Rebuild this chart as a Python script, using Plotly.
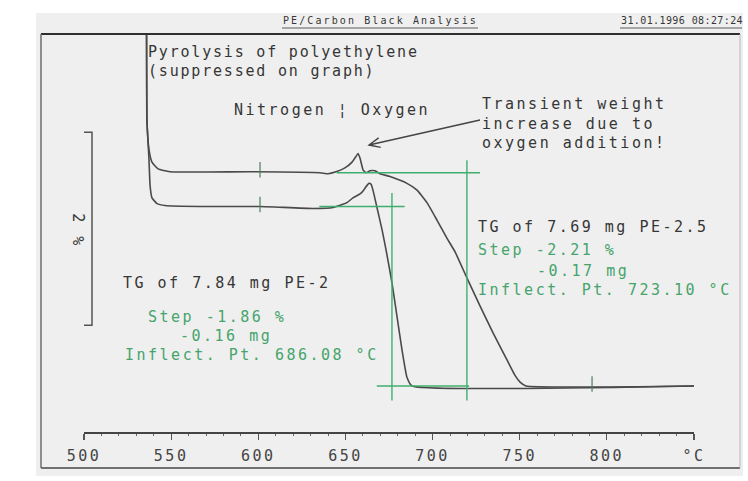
import math
import plotly.graph_objects as go

# ---------------- data ----------------
# Temperature (°C) and weight (% above the final residue level) of the two TG runs
t_pe25 = [536.0, 536.1, 537.3, 539.0, 542.5, 549.3, 595.2, 635.4, 640.0, 644.6,
          649.7, 653.8, 656.1, 657.2, 658.4, 660.1, 661.8, 664.1, 667.0, 669.8,
          675.6, 685.3, 691.1, 696.8, 702.5, 708.3, 712.9, 719.7, 727.2, 734.7,
          742.7, 747.3, 750.2, 753.6, 850.0]
w_pe25 = [4.50, 2.76, 2.45, 2.32, 2.25, 2.22, 2.22, 2.21, 2.20, 2.22,
          2.26, 2.32, 2.38, 2.41, 2.36, 2.24, 2.21, 2.23, 2.23, 2.20,
          2.17, 2.10, 2.03, 1.90, 1.72, 1.53, 1.39, 1.12, 0.83, 0.55,
          0.27, 0.11, 0.04, 0.00, 0.00]

t_pe2 = [535.6, 536.1, 537.3, 537.9, 539.0, 541.9, 546.5, 566.6, 601.0, 631.4,
         642.9, 650.9, 654.3, 658.4, 660.1, 661.2, 663.5, 664.7, 665.8, 668.1,
         671.0, 673.3, 676.7, 679.6, 682.5, 685.3, 688.2, 850.0]
w_pe2 = [4.50, 2.76, 2.34, 2.08, 1.95, 1.89, 1.87, 1.86, 1.86, 1.84,
         1.85, 1.90, 1.95, 1.99, 2.02, 2.05, 2.10, 2.09, 2.03, 1.85,
         1.62, 1.41, 1.07, 0.72, 0.37, 0.09, 0.00, 0.00]

# Step evaluation: plateau levels (%) and their temperature spans (°C)
step_levels = [2.21, 1.86, 0.00]
step_t_from = [645.0, 635.0, 668.0]
step_t_to = [727.2, 684.0, 721.0]
# Evaluation limits (°C) with their vertical extent (%)
limit_t = [676.7, 719.7]
limit_w_top = [2.00, 2.34]
limit_w_bottom = -0.15

# Small cursor marks on the curves
mark_t = [601.0, 601.0, 791.5]
mark_w = [2.22, 1.86, 0.00]

# Scale bar (2 %)
scale_pct = 2.0
scale_top_w = 2.63

# Axis ticks
tick_vals = [500, 550, 600, 650, 700, 750, 800, 850]
tick_text = ["500", "550", "600", "650", "700", "750", "800", "°C"]

title_text = "PE/Carbon Black Analysis"
date_text = "31.01.1996 08:27:24"
pe2_lines = ["TG of 7.84 mg PE-2", "Step -1.86 %", "-0.16 mg", "Inflect. Pt. 686.08 °C"]
pe25_lines = ["TG of 7.69 mg PE-2.5", "Step -2.21 %", "-0.17 mg", "Inflect. Pt. 723.10 °C"]

# ---------------- layout geometry ----------------
W, H = 748, 481
ML, MR, MT, MB = 84, 54, 34, 49
PW, PH = W - ML - MR, H - MT - MB
RES_PX = 386.0        # screen row of the residue level
PX_PER_PCT = 96.5     # screen pixels per weight-%


def px(x):
    return (x - ML) / PW


def py(y):
    return (H - MB - y) / PH


DARK = "#363636"
CURVE = "#4a4a4a"
GREEN = "#3fb06c"
GREEN_TXT = "#45a46b"
MONO = "DejaVu Sans Mono"

fig = go.Figure()

fig.add_trace(go.Scatter(x=t_pe25, y=w_pe25, mode="lines",
                         line=dict(color=CURVE, width=1.6, shape="spline", smoothing=0.4),
                         hoverinfo="skip", showlegend=False))
fig.add_trace(go.Scatter(x=t_pe2, y=w_pe2, mode="lines",
                         line=dict(color=CURVE, width=1.6, shape="spline", smoothing=0.4),
                         hoverinfo="skip", showlegend=False))

shapes = []
# grey page
shapes.append(dict(type="rect", xref="paper", yref="paper", layer="below",
                   x0=px(36), x1=px(743), y0=py(476), y1=py(13),
                   fillcolor="#efefef", line=dict(width=0)))
# frame
for (x0, y0, x1, y1, c, w) in [(41, 34, 740, 34, "#2f2f2f", 2.2),
                               (41, 34, 41, 468, "#6c6c6c", 1.5),
                               (41, 468, 740, 468, "#707070", 2.0),
                               (740, 34, 740, 468, "#b8b8b8", 1.0),
                               (282, 28, 478, 28, "#5a5a5a", 1.0),
                               (620, 28, 742, 28, "#5a5a5a", 1.0)]:
    shapes.append(dict(type="line", xref="paper", yref="paper",
                       x0=px(x0), y0=py(y0), x1=px(x1), y1=py(y1),
                       line=dict(color=c, width=w)))

# step plateau lines
for lvl, a, b in zip(step_levels, step_t_from, step_t_to):
    shapes.append(dict(type="line", xref="x", yref="y", x0=a, x1=b, y0=lvl, y1=lvl,
                       line=dict(color=GREEN, width=1.4)))
# evaluation limits
for t, top in zip(limit_t, limit_w_top):
    shapes.append(dict(type="line", xref="x", yref="y", x0=t, x1=t, y0=limit_w_bottom, y1=top,
                       line=dict(color=GREEN, width=1.4)))
# cursor marks
for t, w in zip(mark_t, mark_w):
    shapes.append(dict(type="line", xref="x", yref="y", x0=t, x1=t, y0=w - 0.06, y1=w + 0.10,
                       line=dict(color="#4d7d5e", width=1.2)))

# scale bar
sb_x = 500 + 8 / (PW / 350)
shapes.append(dict(type="path", xref="x", yref="y",
                   path=f"M 500,{scale_top_w} L {sb_x},{scale_top_w} L {sb_x},{scale_top_w - scale_pct} L 500,{scale_top_w - scale_pct}",
                   line=dict(color="#555555", width=1.5)))

# arrow pointing at the transient weight gain
tail, head = (480, 120), (369, 145)
ang = math.atan2(tail[1] - head[1], tail[0] - head[0])
wing = 12
w1 = (head[0] + wing * math.cos(ang + 0.42), head[1] + wing * math.sin(ang + 0.42))
w2 = (head[0] + wing * math.cos(ang - 0.42), head[1] + wing * math.sin(ang - 0.42))
shapes.append(dict(type="path", xref="paper", yref="paper",
                   path=(f"M {px(tail[0])},{py(tail[1])} L {px(head[0])},{py(head[1])} "
                         f"M {px(w1[0])},{py(w1[1])} L {px(head[0])},{py(head[1])} L {px(w2[0])},{py(w2[1])}"),
                   line=dict(color="#444444", width=1.4)))

annotations = []


def note(text, x, y, color=DARK, size=15, anchor="left", angle=0):
    annotations.append(dict(text=text, x=px(x), y=py(y), xref="paper", yref="paper",
                            xanchor=anchor, yanchor="middle", align=anchor if anchor != "center" else "center",
                            showarrow=False, textangle=angle, borderpad=0,
                            font=dict(family=MONO, size=size, color=color)))


note(title_text, 282, 21, size=10)
note(date_text, 620, 21, size=10)
note("Pyrolysis of polyethylene", 147, 52)
note("(suppressed on graph)", 147, 71)
note("Nitrogen ¦ Oxygen", 233, 110)
note("Transient weight", 481, 104)
note("increase due to", 481, 124)
note("oxygen addition!", 481, 143)

note(pe25_lines[0], 477, 227)
note(pe25_lines[1], 477, 250, GREEN_TXT)
note(pe25_lines[2], 536, 271, GREEN_TXT)
note(pe25_lines[3], 477, 290, GREEN_TXT)

note(pe2_lines[0], 122, 283)
note(pe2_lines[1], 147, 317, GREEN_TXT)
note(pe2_lines[2], 179, 336, GREEN_TXT)
note(pe2_lines[3], 124, 355, GREEN_TXT)

note("2 %", 78, 230, anchor="center", angle=90)

fig.update_layout(
    width=W, height=H,
    margin=dict(l=ML, r=MR, t=MT, b=MB, pad=0),
    paper_bgcolor="white", plot_bgcolor="rgba(0,0,0,0)",
    shapes=shapes, annotations=annotations, showlegend=False,
    xaxis=dict(range=[500, 850], tickvals=tick_vals, ticktext=tick_text,
               showgrid=False, zeroline=False, showline=True, linecolor="#444444", linewidth=1.6,
               ticks="outside", ticklen=6, tickwidth=1.2, tickcolor="#555555",
               minor=dict(dtick=10, ticks="outside", ticklen=2, tickwidth=1, tickcolor="#666666"),
               tickfont=dict(family=MONO, size=15, color="#444444"), ticklabelstandoff=3,
               fixedrange=True),
    yaxis=dict(range=[(RES_PX - (H - MB)) / PX_PER_PCT, (RES_PX - MT) / PX_PER_PCT],
               visible=False, fixedrange=True),
)

# widen the character pitch of the printout-style lettering
spacing_js = """
var gd = document.getElementById('{plot_id}');
function spreadText(){
  gd.querySelectorAll('text').forEach(function(el){
    var s = el.getAttribute('data-unformatted') || el.textContent || '';
    var ls = '2.5px';
    if (s.indexOf('Analysis') >= 0) { ls = '2.1px'; }
    else if (s.indexOf('1996') >= 0) { ls = '0.4px'; }
    else if (s.indexOf('yrolysis') >= 0 || s.indexOf('suppressed') >= 0) { ls = '1.8px'; }
    el.style.letterSpacing = ls;
  });
}
spreadText();
if (gd.on) { gd.on('plotly_afterplot', spreadText); }
"""

fig.write_html("out.html", config={"displayModeBar": False, "staticPlot": True},
               post_script=spacing_js)
